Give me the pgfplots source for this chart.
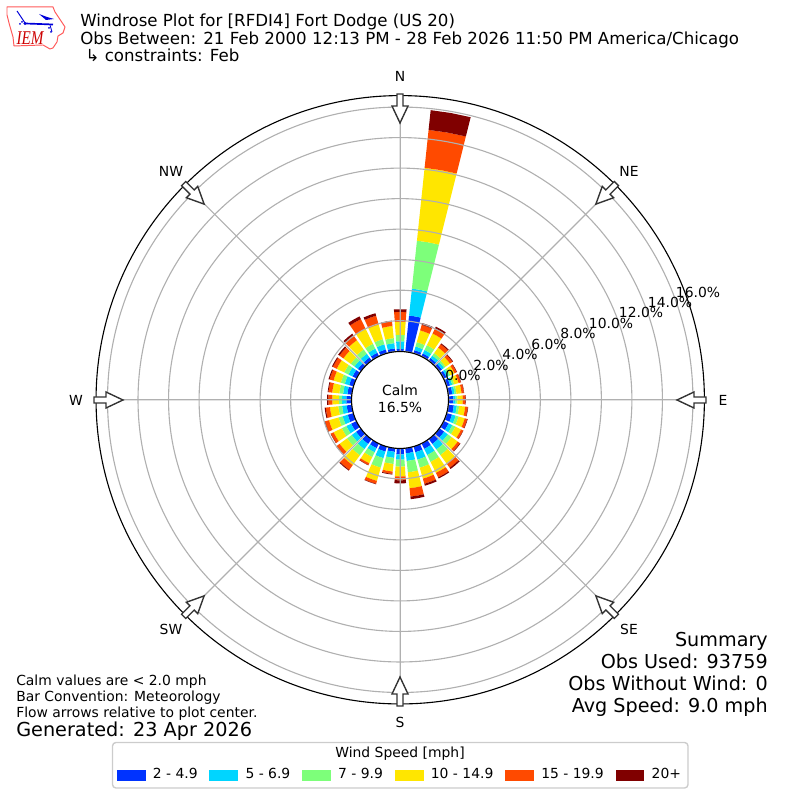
\documentclass[border=0pt]{standalone}
\usepackage{pgfplots}
\usepackage{pgfplotstable}
\usepackage{fontspec}
\setmainfont{DejaVu Sans}
\newfontfamily\iemfont[FakeStretch=0.78]{Liberation Serif}
\pgfplotsset{compat=1.18}
\usepgfplotslibrary{polar}
\definecolor{c1}{HTML}{0033FF}
\definecolor{c2}{HTML}{00D5FF}
\definecolor{c3}{HTML}{7DFF7A}
\definecolor{c4}{HTML}{FFE600}
\definecolor{c5}{HTML}{FF4A00}
\definecolor{c6}{HTML}{800000}
\definecolor{gridc}{HTML}{B0B0B0}
\pgfplotstableread{
dir a b c d e f
0 0.15 0.50 0.43 0.85 0.65 0.17
10 2.37 1.77 3.16 4.80 2.50 1.30
20 0.20 0.25 0.30 0.80 0.38 0.12
30 0.20 0.25 0.35 0.85 0.38 0.12
40 0.20 0.20 0.20 0.45 0.27 0.07
50 0.20 0.17 0.13 0.35 0.20 0.05
60 0.20 0.15 0.13 0.30 0.16 0.03
70 0.22 0.15 0.13 0.30 0.15 0.02
80 0.25 0.15 0.13 0.33 0.15 0.02
90 0.30 0.15 0.12 0.35 0.17 0.03
100 0.35 0.20 0.15 0.40 0.17 0.03
110 0.35 0.25 0.20 0.42 0.17 0.03
120 0.35 0.27 0.22 0.42 0.15 0.02
130 0.38 0.30 0.30 0.50 0.18 0.04
140 0.40 0.45 0.45 0.70 0.33 0.10
150 0.40 0.45 0.50 0.80 0.33 0.08
160 0.40 0.50 0.55 0.75 0.35 0.13
170 0.35 0.50 0.75 1.05 0.55 0.17
180 0.40 0.35 0.45 0.65 0.25 0.20
190 0.25 0.40 0.40 0.50 0.15 0.05
200 0.35 0.45 0.65 0.90 0.20 0.03
210 0.35 0.30 0.35 0.45 0.13 0.02
220 0.40 0.42 0.50 0.80 0.38 0.06
230 0.40 0.35 0.38 0.60 0.25 0.04
240 0.40 0.35 0.33 0.60 0.20 0.02
250 0.40 0.35 0.28 0.65 0.27 0.05
260 0.35 0.30 0.25 0.55 0.28 0.07
270 0.35 0.28 0.22 0.42 0.27 0.08
280 0.30 0.28 0.25 0.47 0.25 0.05
290 0.30 0.30 0.27 0.50 0.27 0.07
300 0.30 0.30 0.30 0.55 0.28 0.07
310 0.25 0.28 0.30 0.60 0.32 0.10
320 0.25 0.30 0.35 0.75 0.40 0.12
330 0.25 0.30 0.35 1.10 0.70 0.20
340 0.25 0.35 0.35 1.00 0.60 0.17
350 0.20 0.35 0.33 0.80 0.30 0.05
}\windtable
\def\roff{3.18}
\newcommand\seg[4]{%
  \edef\tmp{\noexpand\addplot[forget plot,draw=none,fill=#4] coordinates
   {(\ta,#2)(\tb,#2)(\tc,#2)(\tc,#3)(\tb,#3)(\ta,#3)};}\tmp}
\newcommand\fs[1]{\fontsize{#1bp}{#1bp}\selectfont}
\begin{document}
\begin{tikzpicture}[x=0.01in,y=0.01in]
\useasboundingbox (0,0) rectangle (800,800);
% legend background
\begin{scope}[shift={(0,800)},yscale=-1]
\draw[draw=black!20,fill=white,line width=1bp,rounded corners=2.5] (112.5,742.5) rectangle (688,788);
\node[font=\fs{10}] at (400,754) {Wind Speed [mph]};
\end{scope}
\begin{polaraxis}[
  at={(4in,4in)},anchor=center,
  scale only axis,width=6.08in,height=6.08in,
  xmin=0,xmax=360,ymin=0,ymax=19.93,
  xtick={0,45,...,315},
  ytick={3.18,5.18,7.18,9.18,11.18,13.18,15.18,17.18,19.18},
  xticklabels={},yticklabels={},
  major tick length=0pt,
  grid=major,
  grid style={color=gridc,line width=0.8bp},
  x axis line style={black,line width=0.8bp},
  y axis line style={draw=none},
  axis on top,
  legend columns=6,
  legend style={at={(0.5,-0.1165)},anchor=center,draw=none,fill=none,
    font=\fs{10},inner sep=0pt,
    /tikz/every odd column/.style={column sep=3.5pt},
    /tikz/every even column/.style={column sep=6.5pt}},
  legend cell align=left,
  legend image code/.code={\fill[#1] (0pt,-3.6pt) rectangle (20.2pt,3.6pt);},
]
\pgfplotsforeachungrouped \i in {0,...,35}{%
  \pgfplotstablegetelem{\i}{dir}\of\windtable \let\d\pgfplotsretval
  \pgfmathsetmacro\ta{90-\d-4}\pgfmathsetmacro\tb{90-\d}\pgfmathsetmacro\tc{90-\d+4}%
  \pgfmathsetmacro\rb{\roff}%
  \pgfplotsforeachungrouped \s/\c in {a/c1,b/c2,c/c3,d/c4,e/c5,f/c6}{%
    \pgfplotstablegetelem{\i}{\s}\of\windtable
    \pgfmathsetmacro\rt{\rb+\pgfplotsretval}%
    \edef\go{\noexpand\seg{\d}{\rb}{\rt}{\c}}\go
    \let\rb\rt
  }%
}
\addlegendimage{c1}\addlegendentry{2 - 4.9}
\addlegendimage{c2}\addlegendentry{5 - 6.9}
\addlegendimage{c3}\addlegendentry{7 - 9.9}
\addlegendimage{c4}\addlegendentry{10 - 14.9}
\addlegendimage{c5}\addlegendentry{15 - 19.9}
\addlegendimage{c6}\addlegendentry{20+}
\end{polaraxis}
\begin{scope}[shift={(0,800)},yscale=-1]
\draw[fill=white,draw=black,line width=0.8bp] (400,400) circle (48.5);
\node[font=\fs{10},align=center] at (400,399) {Calm\\[2bp]16.5\%};
\foreach \a in {0,45,...,315}
  \draw[rotate around={\a:(400,400)},fill=white,draw=black!80,line width=1bp,line join=miter]
   (397,94)--(403,94)--(403,106)--(408,106)--(400,123)--(392,106)--(397,106)--cycle;
\node[font=\fs{10}] at (400,76) {N};
\node[font=\fs{10}] at (629,171) {NE};
\node[font=\fs{10}] at (723,400) {E};
\node[font=\fs{10}] at (629,629) {SE};
\node[font=\fs{10}] at (400,722) {S};
\node[font=\fs{10}] at (171,629) {SW};
\node[font=\fs{10}] at (76,400) {W};
\node[font=\fs{10}] at (171,171) {NW};
\node[font=\fs{10}] at (463,375) {0.0\%};
\node[font=\fs{10}] at (491,365) {2.0\%};
\node[font=\fs{10}] at (520,354) {4.0\%};
\node[font=\fs{10}] at (549,344) {6.0\%};
\node[font=\fs{10}] at (578,333) {8.0\%};
\node[font=\fs{10}] at (611,323) {10.0\%};
\node[font=\fs{10}] at (641,312) {12.0\%};
\node[font=\fs{10}] at (670,302) {14.0\%};
\node[font=\fs{10}] at (698,292) {16.0\%};
% titles
\node[font=\fs{11.97},anchor=base west,inner sep=0pt] at (80,27) {Windrose Plot for [RFDI4] Fort Dodge (US 20)};
\node[font=\fs{11.97},anchor=base west,inner sep=0pt] at (80,45) {Obs Between: 21 Feb 2000 12:13 PM - 28 Feb 2026 11:50 PM America/Chicago};
\node[font=\fs{11.97},anchor=base west,inner sep=0pt] at (80,62) { \ ↳ constraints: Feb};
% left notes
\node[font=\fs{10},anchor=base west,inner sep=0pt] at (16,686) {Calm values are < 2.0 mph};
\node[font=\fs{10},anchor=base west,inner sep=0pt] at (16,702) {Bar Convention: Meteorology};
\node[font=\fs{10},anchor=base west,inner sep=0pt] at (16,718) {Flow arrows relative to plot center.};
\node[font=\fs{13.85},anchor=base west,inner sep=0pt] at (16,737) {Generated: 23 Apr 2026};
% summary
\node[font=\fs{13.8},anchor=base east,inner sep=0pt] at (768,647) {Summary};
\node[font=\fs{13.8},anchor=base east,inner sep=0pt] at (768,669) {Obs Used: 93759};
\node[font=\fs{13.8},anchor=base east,inner sep=0pt] at (768,691) {Obs Without Wind: 0};
\node[font=\fs{13.8},anchor=base east,inner sep=0pt] at (768,713) {Avg Speed: 9.0 mph};
% logo
\draw[draw=red!65!white,line width=0.7bp,line join=round] (7,7)--(53,7)--(55,12)--(59,18)--(65,27)--(63,33)--(58,36)--(57,42)--(53,48)--(50,49)--(43,45)--(14,46)--(13,37)--(9,23)--(7,15)--cycle;
\draw[blue!85!black,line width=1.2bp] (25,23.5)--(53,24.5);
\draw[blue!85!black,line width=0.7bp] (17,11)--(25,23);
\fill[blue!85!black] (25,23.5) circle (1.6);
\fill[blue!85!black] (39,14)--(47,17)--(54,19)--(46,20)--cycle;
\draw[blue!85!black,line width=0.6bp] (50,25)--(52,32);
\fill[blue!85!black] (20,24) circle (1) (22,22) circle (1) (49,28) circle (1) (51,32) circle (1);
\node[font=\iemfont\itshape\fs{14},text=red!80!black,inner sep=0pt] at (30,38.5) {IEM};
\end{scope}
\end{tikzpicture}
\end{document}
